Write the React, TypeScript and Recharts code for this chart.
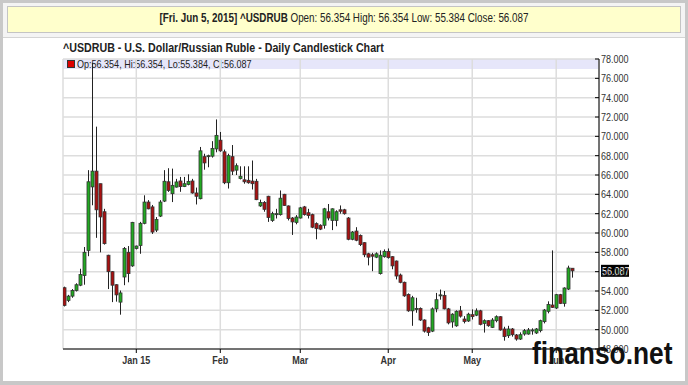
import React from "react";
import {
  ComposedChart,
  Bar,
  XAxis,
  YAxis,
  CartesianGrid,
  ReferenceLine,
} from "recharts";

// daily candles, Dec 2014 - Jun 5 2015
const opens = [
  54.34, 53.03, 53.47, 54.06, 54.6, 55.6, 58.2, 64.77, 66.4, 65.1, 62.2, 57.7, 56.0, 54.65, 52.85, 55.45, 58.0, 56.6,
  58.4, 58.7, 61.0, 63.2, 62.7, 60.3, 61.75, 63.3, 65.3, 64.07, 64.75, 65.38, 64.8, 65.03, 65.38, 64.14, 63.55, 67.9, 67.9, 67.95, 68.7,
  69.6, 68.4, 65.2, 67.9, 66.5, 65.64, 65.5, 65.45, 65.37, 65.35, 62.8, 63.15, 63.8, 61.3, 61.9, 61.9, 64.0, 62.8, 61.55, 61.1,
  61.55, 62.7, 62.1, 61.9, 60.97, 60.8, 60.8, 62.2, 61.3, 61.3, 62.4, 62.4, 61.55, 59.35, 60.2, 59.75, 59.0, 57.85, 57.75, 57.5, 55.8, 57.55,
  58.1, 57.55, 57.1, 55.65, 54.9, 53.65, 51.95, 52.1, 52.2, 51.0, 50.2, 49.85, 52.15, 53.5, 53.55, 52.15, 50.8, 50.4, 51.95, 51.1, 50.9,
  51.55, 51.5, 51.95, 50.65, 50.93, 50.24, 50.93, 51.34, 50.07, 49.38, 50.07, 49.45, 49.03, 49.55, 49.55, 49.93, 49.66, 49.9, 50.83, 51.9, 52.55,
  52.24, 53.62, 52.72, 54.2, 56.354,
];
const highs = [
  54.45, 53.6, 54.2, 54.8, 56.3, 58.55, 66.5, 77.6, 71.0, 65.1, 62.5, 57.75, 56.05, 54.7, 54.05, 58.55, 58.65, 61.15,
  58.7, 61.15, 63.9, 63.4, 62.9, 61.65, 63.4, 66.5, 66.7, 66.66, 65.6, 65.8, 65.8, 66.07, 65.6, 64.7, 68.9, 68.2, 68.1, 69.5, 71.75,
  70.45, 68.63, 68.2, 69.1, 67.2, 66.9, 66.9, 66.9, 67.5, 65.6, 63.45, 63.3, 63.85, 62.2, 62.5, 64.4, 64.05, 62.85, 61.65, 61.85,
  62.7, 62.8, 62.5, 62.0, 61.1, 60.9, 62.6, 63.0, 62.55, 62.35, 62.85, 62.5, 61.65, 60.2, 60.6, 59.85, 59.05, 57.95, 57.95, 58.0, 58.2, 58.3,
  58.4, 57.6, 57.15, 55.8, 54.97, 53.75, 53.5, 53.3, 52.3, 51.07, 50.3, 52.3, 53.8, 54.15, 54.0, 52.25, 51.7, 52.0, 52.45, 51.4, 51.75,
  52.1, 52.2, 52.05, 51.07, 51.0, 51.2, 51.48, 51.4, 50.3, 50.4, 50.17, 49.55, 49.72, 50.07, 50.17, 50.14, 50.17, 51.03, 52.14, 52.93, 58.2,
  53.7, 53.7, 54.38, 56.62, 56.354,
];
const lows = [
  52.4, 52.85, 53.3, 53.95, 54.5, 54.65, 57.6, 62.87, 59.5, 58.0, 58.8, 54.2, 52.85, 52.9, 51.55, 54.6, 54.9, 56.5,
  58.3, 57.85, 60.9, 62.45, 59.9, 60.1, 61.65, 63.2, 64.25, 63.2, 64.7, 64.26, 64.75, 64.93, 64.07, 62.95, 63.48, 66.55, 66.8, 67.8, 68.35,
  68.4, 65.05, 64.6, 66.0, 66.0, 65.54, 65.1, 65.1, 64.5, 63.4, 62.7, 62.2, 61.15, 61.15, 61.5, 61.8, 62.8, 61.3, 59.8, 60.9,
  61.5, 61.8, 61.5, 60.5, 59.35, 60.3, 60.45, 61.3, 60.3, 60.7, 62.0, 61.9, 59.25, 59.25, 59.15, 58.65, 57.5, 56.65, 56.05, 57.4, 55.7, 57.45,
  57.35, 56.25, 55.2, 54.8, 53.4, 51.85, 50.4, 51.75, 50.9, 49.7, 49.35, 49.75, 51.8, 53.1, 52.1, 50.55, 50.2, 50.3, 51.25, 50.65, 50.8,
  51.05, 51.4, 50.45, 49.7, 50.3, 50.17, 50.76, 49.9, 48.86, 49.14, 49.28, 48.86, 48.93, 49.38, 49.48, 49.48, 49.55, 49.72, 50.65, 51.69, 52.24,
  52.14, 52.65, 52.38, 54.1, 55.384,
];
const closes = [
  52.51, 53.47, 54.06, 54.65, 55.7, 58.0, 65.3, 66.4, 62.4, 61.66, 58.9, 56.0, 54.6, 53.6, 53.8, 58.4, 55.8, 61.1,
  58.65, 61.0, 63.2, 62.5, 60.1, 61.4, 63.2, 65.35, 64.4, 64.93, 65.28, 64.8, 65.1, 65.34, 64.14, 63.8, 68.5, 67.25, 68.0, 68.75, 70.1,
  68.5, 65.2, 68.0, 66.4, 66.96, 65.87, 65.3, 65.2, 65.1, 63.45, 63.15, 62.45, 61.6, 62.0, 62.0, 63.6, 62.85, 61.5, 61.15, 61.65,
  62.6, 61.9, 61.8, 60.6, 60.45, 60.4, 62.5, 61.55, 62.5, 62.2, 62.25, 62.0, 59.35, 60.1, 59.25, 58.8, 57.75, 57.5, 57.6, 57.85, 57.7, 58.1,
  57.45, 56.6, 55.55, 54.9, 53.5, 51.95, 53.3, 52.2, 51.0, 49.85, 49.7, 52.15, 53.1, 53.6, 52.15, 50.7, 51.6, 51.9, 51.4, 50.85, 51.6,
  51.35, 51.95, 50.55, 50.93, 50.41, 51.0, 51.34, 49.97, 49.28, 50.07, 49.48, 49.03, 49.48, 49.9, 49.97, 49.97, 50.07, 50.93, 52.03, 52.6, 52.31,
  53.62, 52.72, 54.31, 56.38, 56.087,
];

// first trading day of each month (candle index) and its label
const monthTicks = [18, 39, 59, 81, 102, 123];
const monthLabels = ["Jan 15", "Feb", "Mar", "Apr", "May", "Jun"];
const priceTicks = [48, 50, 52, 54, 56, 58, 60, 62, 64, 66, 68, 70, 72, 74, 76, 78];
const lastDate = "Fri. Jun 5, 2015";
const symbol = "^USDRUB";

const FONT = '"Liberation Sans", Arial, sans-serif';
const SQUEEZE = 0.82; // the original uses a narrow font
const UP = "#22aa22";
const DOWN = "#aa1111";

const data = opens.map((o, i) => ({
  i,
  open: o,
  high: highs[i],
  low: lows[i],
  close: closes[i],
}));

const last = data[data.length - 1];
const fmt = (v: number) => v.toFixed(3);

// svg text squeezed horizontally
const NText = ({ x, y, children, anchor = "start", ...rest }: any) => (
  <text
    transform={`translate(${x},${y}) scale(${SQUEEZE},1)`}
    textAnchor={anchor}
    fontFamily={FONT}
    {...rest}
  >
    {children}
  </text>
);

const Candle = (props: any) => {
  const { x, y, width, height, payload } = props;
  if (!payload) return null;
  const { open, close, high, low } = payload;
  const cx = Math.round(x + width / 2) + 0.5;
  const py = (v: number) => y + ((high - v) / (high - low || 1)) * height;
  const up = close >= open;
  const top = py(Math.max(open, close));
  const bot = py(Math.min(open, close));
  return (
    <g>
      <line x1={cx} x2={cx} y1={y} y2={y + height} stroke="#222" strokeWidth={1} />
      <rect
        x={cx - 1.5}
        y={top}
        width={3}
        height={Math.max(1, bot - top)}
        fill={up ? UP : DOWN}
        stroke="#333"
        strokeWidth={0.8}
      />
    </g>
  );
};

const PriceTick = (props: any) => {
  const { x, y, payload } = props;
  return (
    <g>
      <line x1={x - 6} x2={x - 2} y1={y} y2={y} stroke="#000" />
      <NText x={x} y={y + 4} fontSize={11} fill="#333">
        {fmt(payload.value)}
      </NText>
    </g>
  );
};

const MonthTick = (props: any) => {
  const { x, y, payload } = props;
  const label = monthLabels[monthTicks.indexOf(payload.value)] ?? "";
  return (
    <NText x={x} y={y + 9} anchor="middle" fontSize={11} fontWeight="bold" fill="#333">
      {label}
    </NText>
  );
};

const LastLabel = (props: any) => {
  const vb = props.viewBox || {};
  const x = vb.x + vb.width + 2;
  const y = vb.y;
  return (
    <g>
      <rect x={x} y={y - 6} width={28} height={12} fill="#000" />
      <NText x={x + 1} y={y + 4} fontSize={11} fill="#fff">
        {fmt(last.close)}
      </NText>
    </g>
  );
};

const squeezeLeft = {
  transform: `scaleX(${SQUEEZE})`,
  transformOrigin: "0 0",
  whiteSpace: "nowrap" as const,
};

export default function App() {
  return (
    <div
      style={{
        position: "absolute",
        left: 0,
        top: 0,
        width: 688,
        height: 385,
        background: "#c8c8c8",
        fontFamily: FONT,
      }}
    >
      <div
        style={{
          position: "absolute",
          left: 3,
          top: 3,
          width: 682,
          height: 378,
          background: "#fff",
        }}
      />
      <div
        style={{
          position: "absolute",
          left: 3,
          top: 3,
          width: 682,
          height: 34,
          background: "#f4f4f4",
          borderBottom: "1px solid #d4d4d4",
        }}
      />
      <div
        style={{
          position: "absolute",
          left: 7,
          top: 6,
          width: 672,
          height: 25,
          background: "#ffffcc",
          border: "1px solid #c4c4c4",
        }}
      />
      <div
        style={{
          position: "absolute",
          left: 0,
          top: 6,
          width: 688,
          height: 25,
          textAlign: "center",
          lineHeight: "25px",
          fontSize: 12,
          color: "#222",
        }}
      >
        <span style={{ display: "inline-block", transform: `scaleX(${SQUEEZE})`, whiteSpace: "nowrap" }}>
          <b>
            [{lastDate}] {symbol}
          </b>{" "}
          Open: {fmt(last.open)} High: {fmt(last.high)} Low: {fmt(last.low)} Close: {fmt(last.close)}
        </span>
      </div>
      <div
        style={{
          position: "absolute",
          left: 63,
          top: 40,
          fontSize: 13,
          fontWeight: "bold",
          color: "#222",
          ...squeezeLeft,
        }}
      >
        ^USDRUB - U.S. Dollar/Russian Ruble - Daily Candlestick Chart
      </div>
      {/* legend strip inside the plot */}
      <div
        style={{
          position: "absolute",
          left: 63,
          top: 59,
          width: 536,
          height: 10,
          background: "#e6e6fa",
        }}
      />
      <div
        style={{
          position: "absolute",
          left: 67,
          top: 60,
          width: 6,
          height: 6,
          background: "#dd0000",
          border: "1px solid #333",
        }}
      />
      <div
        style={{
          position: "absolute",
          left: 77,
          top: 58,
          fontSize: 11,
          lineHeight: "12px",
          color: "#222",
          ...squeezeLeft,
        }}
      >
        Op:{fmt(last.open)}, Hi:{fmt(last.high)}, Lo:{fmt(last.low)}, Cl:{fmt(last.close)}
      </div>
      <div style={{ position: "absolute", left: 0, top: 0 }}>
        <ComposedChart
          width={688}
          height={385}
          data={data}
          margin={{ top: 59, right: 39, bottom: 16, left: 63 }}
        >
          <CartesianGrid xAxisId="x" yAxisId="y" stroke="#dddddd" strokeWidth={1.5} />
          <XAxis
            xAxisId="x"
            dataKey="i"
            type="number"
            domain={[-0.33, 133.7]}
            allowDataOverflow
            ticks={monthTicks}
            interval={0}
            height={20}
            tickSize={4}
            tickMargin={2}
            stroke="#000"
            tick={<MonthTick />}
          />
          <XAxis
            xAxisId="top"
            orientation="top"
            type="number"
            domain={[-0.33, 133.7]}
            allowDataOverflow
            tick={false}
            tickLine={false}
            height={0}
            stroke="#000"
          />
          <YAxis
            yAxisId="y"
            orientation="right"
            type="number"
            domain={[48, 78]}
            ticks={priceTicks}
            interval={0}
            width={50}
            tickSize={0}
            tickMargin={2}
            tickLine={false}
            stroke="#000"
            tick={<PriceTick />}
          />
          <YAxis
            yAxisId="left"
            orientation="left"
            type="number"
            domain={[48, 78]}
            tick={false}
            tickLine={false}
            width={0}
            stroke="#000"
          />
          <Bar
            xAxisId="x"
            yAxisId="y"
            dataKey={(d: any) => [d.low, d.high]}
            barSize={4}
            shape={<Candle />}
            isAnimationActive={false}
          />
          <ReferenceLine
            xAxisId="x"
            yAxisId="y"
            y={last.close}
            stroke="none"
            label={<LastLabel />}
          />
        </ComposedChart>
      </div>
      <div
        style={{
          position: "absolute",
          left: 532,
          top: 337,
          fontSize: 31,
          fontWeight: "bold",
          color: "#111",
          lineHeight: "34px",
          transform: "scaleX(0.85)",
          transformOrigin: "0 0",
          whiteSpace: "nowrap",
        }}
      >
        finanso.net
      </div>
    </div>
  );
}
